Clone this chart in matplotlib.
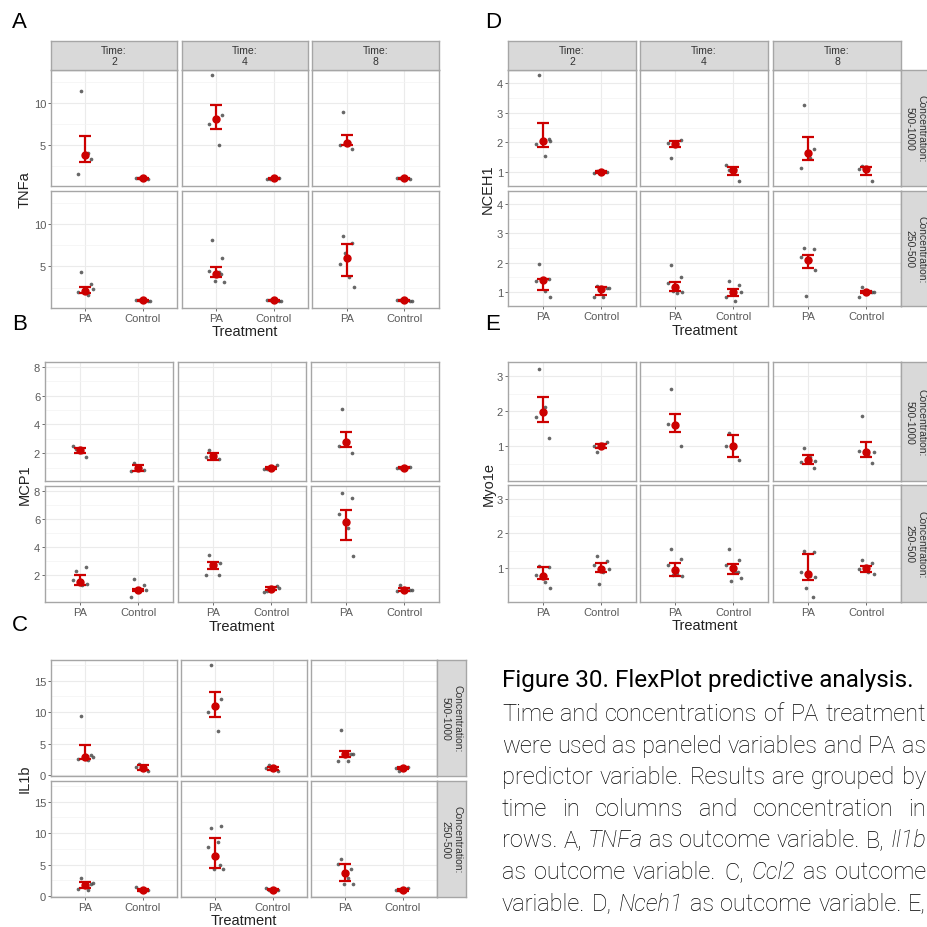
import matplotlib
matplotlib.use("Agg")
import matplotlib.pyplot as plt

plt.rcParams['font.family'] = ['Liberation Sans', 'DejaVu Sans']

W, H = 928, 928
RED = '#CC0000'
DOT = '#4D4D4D'
BORDER = '#A6A6A6'
STRIP = '#D9D9D9'

TREATMENTS = ["PA", "Control"]
TIMES = ["2", "4", "8"]
CONCS = ["500-1000", "250-500"]
JITTER = [-0.07, 0.1, -0.12, 0.04, 0.13, -0.03, 0.08]

# cell order: concentration row (500-1000, 250-500) x time (2, 4, 8) x treatment (PA, Control)
tnfa_pts = [
    [11.4, 3.35, 1.54, 4.05], [1.0, 0.95, 1.05, 1.0],
    [13.27, 8.58, 7.44, 4.96], [0.98, 1.0, 0.95, 1.02],
    [8.94, 4.5, 5.0, 5.3], [1.0, 0.98, 1.02],
    [4.3, 2.9, 1.95, 1.64, 2.3, 2.15], [1.0, 0.95, 1.05, 1.0, 0.9],
    [8.13, 6.02, 4.49, 4.3, 3.2, 3.3, 4.1], [1.0, 0.95, 1.05, 1.0, 0.9, 1.05],
    [8.55, 7.77, 5.27, 3.75, 2.54, 6.6], [1.0, 0.95, 1.05, 1.0, 0.9, 0.95],
]
tnfa_mid = [3.78, 1.0, 8.03, 1.0, 5.24, 1.0, 2.15, 1.0, 4.1, 1.0, 6.05, 1.0]
tnfa_lo = [2.9, 0.9, 6.85, 0.9, 4.92, 0.92, 1.88, 0.9, 3.79, 0.9, 3.9, 0.92]
tnfa_hi = [6.0, 1.1, 9.76, 1.1, 6.22, 1.08, 2.58, 1.1, 4.92, 1.1, 7.66, 1.08]

mcp1_pts = [
    [2.28, 1.74, 2.53, 2.07], [1.33, 0.84, 0.79, 0.95],
    [2.23, 1.56, 1.72, 1.95], [0.93, 1.14, 0.91, 1.0],
    [5.07, 2.0, 2.53, 2.88], [1.0, 1.02, 0.98, 1.0],
    [2.26, 2.58, 1.6, 1.26, 1.37], [1.67, 1.26, 0.42, 0.9, 0.9],
    [3.44, 2.02, 2.0, 2.77, 2.88, 2.53], [0.86, 1.21, 0.79, 1.0, 1.05],
    [7.88, 7.47, 6.37, 5.33, 3.35], [1.26, 0.91, 0.84, 1.0, 0.95],
]
mcp1_mid = [2.19, 0.95, 1.81, 0.98, 2.81, 1.0, 1.49, 0.95, 2.7, 1.0, 5.79, 0.95]
mcp1_lo = [2.02, 0.74, 1.53, 0.9, 2.42, 0.95, 1.3, 0.88, 2.42, 0.9, 4.51, 0.88]
mcp1_hi = [2.35, 1.14, 2.02, 1.05, 3.47, 1.05, 2.0, 1.02, 2.95, 1.1, 6.67, 1.05]

il1b_pts = [
    [9.37, 3.16, 2.53, 2.37, 2.9], [1.79, 0.68, 1.3],
    [17.5, 12.1, 10.1, 6.95], [1.58, 0.68, 1.05],
    [7.2, 3.42, 2.2, 2.2, 3.37], [0.68, 1.26, 1.05],
    [2.85, 1.9, 1.06, 1.0, 2.1], [0.9, 0.9, 1.43, 0.74],
    [10.83, 11.2, 7.87, 8.66, 4.33, 4.33, 4.97], [0.9, 0.9, 1.27, 1.16],
    [5.92, 4.33, 5.07, 2.9, 1.95, 1.95], [0.9, 1.27, 1.0],
]
il1b_mid = [2.9, 1.16, 10.95, 1.05, 3.32, 1.16, 1.69, 1.0, 6.44, 1.0, 3.7, 1.0]
il1b_lo = [2.53, 0.84, 9.26, 0.8, 2.9, 0.95, 1.27, 0.85, 4.49, 0.9, 2.38, 0.85]
il1b_hi = [4.74, 1.58, 13.26, 1.3, 3.84, 1.3, 2.2, 1.15, 9.19, 1.15, 5.02, 1.15]

nceh1_pts = [
    [4.28, 2.1, 1.96, 1.54, 2.05], [1.05, 1.0, 0.98],
    [1.47, 2.08, 1.99, 1.99], [1.07, 0.7, 1.24, 1.09],
    [3.25, 1.79, 1.14, 1.48], [1.19, 0.7, 1.09],
    [1.96, 1.44, 1.39, 1.04, 0.82], [1.2, 1.15, 0.84, 0.84, 1.15],
    [1.93, 1.52, 1.3, 0.96, 1.01, 1.03], [1.37, 1.24, 0.82, 0.71, 1.01],
    [2.51, 2.47, 2.19, 2.1, 1.74, 0.88], [1.18, 1.01, 0.82, 1.04, 1.01],
]
nceh1_mid = [2.05, 1.0, 1.96, 1.07, 1.65, 1.09, 1.4, 1.12, 1.18, 0.99, 2.1, 1.01]
nceh1_lo = [1.86, 0.97, 1.85, 0.89, 1.39, 0.9, 1.06, 0.9, 1.03, 0.88, 1.82, 0.97]
nceh1_hi = [2.66, 1.03, 2.05, 1.17, 2.17, 1.16, 1.46, 1.18, 1.36, 1.12, 2.28, 1.05]

myo1e_pts = [
    [3.21, 1.24, 1.83, 2.11], [0.84, 1.14, 1.0, 1.07],
    [2.62, 1.02, 1.64], [1.38, 0.61, 1.02],
    [0.97, 0.4, 0.57, 0.69, 0.59], [1.86, 0.54, 0.88, 0.75, 0.85],
    [1.05, 1.03, 0.81, 0.6, 0.42, 0.76], [1.35, 1.19, 1.08, 0.89, 0.97, 0.55],
    [1.54, 1.26, 1.1, 0.83, 0.76, 0.79], [1.54, 1.24, 1.08, 0.9, 0.71, 0.64, 0.9],
    [1.5, 1.46, 0.89, 0.76, 0.74, 0.41, 0.16], [1.24, 1.14, 0.98, 0.89, 0.83],
]
myo1e_mid = [1.99, 1.02, 1.62, 1.02, 0.61, 0.83, 0.78, 0.98, 0.95, 1.0, 0.83, 1.0]
myo1e_lo = [1.69, 0.95, 1.42, 0.7, 0.51, 0.71, 0.67, 0.9, 0.77, 0.83, 0.65, 0.89]
myo1e_hi = [2.42, 1.07, 1.91, 1.34, 0.75, 1.12, 1.03, 1.14, 1.14, 1.11, 1.41, 1.07]

CAPTION_TITLE = "Figure 30. FlexPlot predictive analysis."
# words between * are italic
CAPTION_LINES = [
    "Time and concentrations of PA treatment",
    "were used as paneled variables and PA as",
    "predictor variable. Results are grouped by",
    "time in columns and concentration in",
    "rows. A, *TNFa* as outcome variable. B, *Il1b*",
    "as outcome variable. C, *Ccl2* as outcome",
    "variable. D, *Nceh1* as outcome variable. E,",
]

fig = plt.figure(figsize=(W / 100, H / 100), dpi=100)
renderer = fig.canvas.get_renderer()


def px_axes(x0, y0, x1, y1, **kw):
    return fig.add_axes([x0 / W, 1 - y1 / H, (x1 - x0) / W, (y1 - y0) / H], **kw)


def px_text(x, y, s, **kw):
    return fig.text(x / W, 1 - y / H, s, **kw)


def strip(x0, y0, x1, y1, label, rotation=0):
    ax = px_axes(x0, y0, x1, y1, facecolor=STRIP)
    ax.set_xticks([])
    ax.set_yticks([])
    for sp in ax.spines.values():
        sp.set_color(BORDER)
        sp.set_linewidth(1.0)
    ax.text(0.5, 0.5, label, transform=ax.transAxes, ha='center', va='center',
            rotation=rotation, fontsize=7.5, color='#333333', linespacing=1.2)


def facet_grid(pts, mid, lo, hi, cols, rows, ylim, ticks, minor, top=None, right=None):
    for r, (y0, y1) in enumerate(rows):
        for c, (x0, x1) in enumerate(cols):
            ax = px_axes(x0, y0, x1, y1)
            ax.set_xlim(0.4, 2.6)
            ax.set_ylim(*ylim)
            ax.set_axisbelow(True)
            ax.set_xticks([1, 2])
            ax.set_yticks(ticks)
            ax.set_yticks(minor, minor=True)
            ax.grid(which='major', color='#EBEBEB', lw=0.8)
            ax.grid(which='minor', axis='y', color='#F3F3F3', lw=0.5)
            ax.tick_params(which='minor', length=0)
            ax.tick_params(which='major', length=2, width=0.6, color='#555555',
                           labelsize=8, labelcolor='#5A5A5A', pad=1.5)
            for sp in ax.spines.values():
                sp.set_color(BORDER)
                sp.set_linewidth(1.0)
            if c == 0:
                ax.set_yticklabels([f'{t:g}' for t in ticks])
            else:
                ax.tick_params(axis='y', length=0, labelleft=False)
            if r == len(rows) - 1:
                ax.set_xticklabels(TREATMENTS)
            else:
                ax.tick_params(axis='x', length=0, labelbottom=False)
            for g in range(2):
                k = r * 6 + c * 2 + g
                ys = pts[k]
                xs = [g + 1 + JITTER[i % len(JITTER)] for i in range(len(ys))]
                ax.scatter(xs, ys, s=7, color=DOT, alpha=0.85, linewidths=0, zorder=3)
                ax.errorbar([g + 1], [mid[k]], yerr=[[mid[k] - lo[k]], [hi[k] - mid[k]]],
                            fmt='o', color=RED, ms=5, capsize=4, elinewidth=1.6,
                            capthick=1.6, zorder=4)
            if top is not None and r == 0:
                strip(x0, top[0], x1, top[1], 'Time:\n' + TIMES[c])
        if right is not None:
            strip(right[0], y0, right[1], y1, 'Concentration:\n' + CONCS[r], rotation=-90)


LEFT_COLS = [(51, 177), (182, 308), (312, 439)]
RIGHT_COLS = [(508, 636), (640, 768), (773, 901)]

# A: TNFa
facet_grid(tnfa_pts, tnfa_mid, tnfa_lo, tnfa_hi, LEFT_COLS, [(71, 187), (192, 309)],
           (0.1, 13.9), [5, 10], [2.5, 7.5, 12.5], top=(42, 71))
# B: MCP1
facet_grid(mcp1_pts, mcp1_mid, mcp1_lo, mcp1_hi, [(45, 173), (178, 306), (311, 439)],
           [(363, 482), (487, 603)], (0.06, 8.35), [2, 4, 6, 8], [1, 3, 5, 7])
# C: IL1b
facet_grid(il1b_pts, il1b_mid, il1b_lo, il1b_hi, [(51, 177), (181, 307), (311, 437)],
           [(661, 777), (782, 898)], (-0.15, 18.3), [0, 5, 10, 15], [2.5, 7.5, 12.5, 17.5],
           right=(437, 466))
# D: NCEH1
facet_grid(nceh1_pts, nceh1_mid, nceh1_lo, nceh1_hi, RIGHT_COLS, [(71, 187), (192, 307)],
           (0.53, 4.44), [1, 2, 3, 4], [1.5, 2.5, 3.5], top=(42, 71), right=(901, 930))
# E: Myo1e
facet_grid(myo1e_pts, myo1e_mid, myo1e_lo, myo1e_hi, RIGHT_COLS, [(363, 482), (486, 603)],
           (0.02, 3.4), [1, 2, 3], [0.5, 1.5, 2.5], right=(901, 930))

# panel letters
for letter, x, y in [('A', 12, 28), ('B', 12, 330), ('C', 12, 631), ('D', 485, 28), ('E', 485, 330)]:
    px_text(x, y, letter, fontsize=16, color='black', ha='left', va='baseline')

# axis titles
for label, x, y in [('TNFa', 25, 190), ('MCP1', 25, 485), ('IL1b', 25, 779),
                    ('NCEH1', 488, 189), ('Myo1e', 489, 484)]:
    px_text(x, y, label, fontsize=10.5, color='#222222', rotation=90, ha='center', va='center')
for x, y in [(245, 336), (242, 631), (244, 925), (705, 335), (705, 630)]:
    px_text(x, y, 'Treatment', fontsize=10.5, color='#222222', ha='center', va='baseline')


# caption, justified between CAP_L and CAP_R
CAP_L, CAP_R = 502, 926


def word_style(word):
    italic = word.startswith('*')
    return word.strip('*'), ('italic' if italic else 'normal')


def text_width(s, size, style='normal', weight='light'):
    t = fig.text(0, 0, s, family='Roboto', fontsize=size, style=style, weight=weight)
    w = t.get_window_extent(renderer).width
    t.remove()
    return w


title_size = 17.5
tw = text_width(CAPTION_TITLE, title_size, weight='normal')
if tw > 418:
    title_size *= 418 / tw
px_text(CAP_L, 687, CAPTION_TITLE, family='Roboto', fontsize=title_size, weight='normal',
        color='#000000', va='baseline', ha='left')

body_size = 17.0
space = text_width('a a', body_size) - text_width('aa', body_size)
natural = []
for line in CAPTION_LINES:
    words = [word_style(w) for w in line.split()]
    natural.append(sum(text_width(w, body_size, s) for w, s in words) + space * (len(words) - 1))
scale = min(1.0, (CAP_R - CAP_L) / max(natural))
body_size *= scale

for i, line in enumerate(CAPTION_LINES):
    words = [word_style(w) for w in line.split()]
    widths = [text_width(w, body_size, s) for w, s in words]
    gap = (CAP_R - CAP_L - sum(widths)) / (len(words) - 1)
    x = CAP_L
    y = 721 + i * 31.6
    for (w, s), wd in zip(words, widths):
        px_text(x, y, w, family='Roboto', fontsize=body_size, style=s, weight='light',
                color='#000000', va='baseline', ha='left')
        x += wd + gap

fig.savefig('out.png', dpi=100)
